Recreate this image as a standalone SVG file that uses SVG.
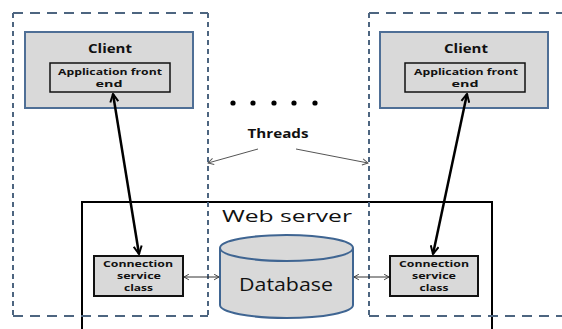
<svg xmlns="http://www.w3.org/2000/svg" width="562" height="329" viewBox="0 0 562 329">
  <defs>
    <style>
      .dash-h { stroke: #4d6580; stroke-width: 2; stroke-dasharray: 10 7; fill: none; }
      .dash-v { stroke: #4d6580; stroke-width: 2; stroke-dasharray: 5 4; fill: none; }
      .client { fill: #d9d9d9; stroke: #4f6f96; stroke-width: 2; }
      .inner { fill: #d9d9d9; stroke: #111; stroke-width: 1.5; }
      .conn { fill: #d9d9d9; stroke: #111; stroke-width: 2; }
      .bold { font-family: "Open Sans", "Liberation Sans", sans-serif; font-weight: bold; fill: #111; text-anchor: middle; }
      .small { font-size: 9px; }
      .reg { font-family: "Open Sans", "Liberation Sans", sans-serif; fill: #111; }
      .thick { stroke: #000; stroke-width: 2.5; fill: none; marker-start: url(#headS); marker-end: url(#headE); }
      .thin2 { stroke: #333; stroke-width: 1; fill: none; marker-start: url(#smallS); marker-end: url(#smallE); }
      .thread { stroke: #555; stroke-width: 1; fill: none; marker-end: url(#thinE); }
    </style>
    <marker id="headE" viewBox="0 0 10 10" refX="9" refY="5" markerWidth="4" markerHeight="4" orient="auto" markerUnits="strokeWidth">
      <path d="M1,1 L9,5 L1,9" fill="none" stroke="#000" stroke-width="2"/>
    </marker>
    <marker id="headS" viewBox="0 0 10 10" refX="1" refY="5" markerWidth="4" markerHeight="4" orient="auto" markerUnits="strokeWidth">
      <path d="M9,1 L1,5 L9,9" fill="none" stroke="#000" stroke-width="2"/>
    </marker>
    <marker id="smallE" viewBox="0 0 10 10" refX="9" refY="5" markerWidth="7" markerHeight="7" orient="auto" markerUnits="strokeWidth">
      <path d="M2,1 L9,5 L2,9" fill="none" stroke="#333" stroke-width="1.3"/>
    </marker>
    <marker id="smallS" viewBox="0 0 10 10" refX="1" refY="5" markerWidth="7" markerHeight="7" orient="auto" markerUnits="strokeWidth">
      <path d="M8,1 L1,5 L8,9" fill="none" stroke="#333" stroke-width="1.3"/>
    </marker>
    <marker id="thinE" viewBox="0 0 10 10" refX="9" refY="5" markerWidth="8" markerHeight="8" orient="auto" markerUnits="strokeWidth">
      <path d="M2,1 L9,5 L2,9" fill="none" stroke="#555" stroke-width="1.2"/>
    </marker>
  </defs>

  <rect width="562" height="329" fill="#fff"/>

  <!-- web server container -->
  <g id="web-server">
    <rect x="82" y="202" width="410" height="140" fill="none" stroke="#000" stroke-width="2"/>
    <text class="reg" x="222" y="222" font-size="17" textLength="130" lengthAdjust="spacingAndGlyphs">Web server</text>
  </g>

  <!-- thread boundaries -->
  <g id="thread-left">
    <line class="dash-h" x1="13" y1="13" x2="208" y2="13"/>
    <line class="dash-h" x1="13" y1="316" x2="208" y2="316"/>
    <line class="dash-v" x1="13" y1="13" x2="13" y2="316"/>
    <line class="dash-v" x1="208" y1="13" x2="208" y2="316"/>
  </g>
  <g id="thread-right">
    <line class="dash-h" x1="369" y1="13" x2="562" y2="13"/>
    <line class="dash-h" x1="369" y1="316" x2="562" y2="316"/>
    <line class="dash-v" x1="369" y1="13" x2="369" y2="316"/>
  </g>

  <g id="client-left">
    <rect class="client" x="25" y="32" width="168" height="76"/>
    <text class="bold" x="110" y="53" font-size="12.5" textLength="44" lengthAdjust="spacingAndGlyphs">Client</text>
    <rect class="inner" x="50" y="63" width="120" height="29"/>
    <text class="bold small" x="110" y="75" textLength="104" lengthAdjust="spacingAndGlyphs">Application front</text>
    <text class="bold small" x="109" y="87" textLength="27" lengthAdjust="spacingAndGlyphs">end</text>
  </g>

  <g id="client-right">
    <rect class="client" x="380" y="32" width="168" height="76"/>
    <text class="bold" x="466" y="53" font-size="12.5" textLength="44" lengthAdjust="spacingAndGlyphs">Client</text>
    <rect class="inner" x="405" y="63" width="120" height="29"/>
    <text class="bold small" x="466" y="75" textLength="104" lengthAdjust="spacingAndGlyphs">Application front</text>
    <text class="bold small" x="465" y="87" textLength="27" lengthAdjust="spacingAndGlyphs">end</text>
  </g>

  <g id="ellipsis">
    <circle cx="233" cy="103" r="2.6" fill="#000"/>
    <circle cx="253" cy="103" r="2.6" fill="#000"/>
    <circle cx="274" cy="103" r="2.6" fill="#000"/>
    <circle cx="294" cy="103" r="2.6" fill="#000"/>
    <circle cx="315" cy="103" r="2.6" fill="#000"/>
  </g>

  <g id="threads-label">
    <text class="bold" x="278" y="138" font-size="13" textLength="61" lengthAdjust="spacingAndGlyphs">Threads</text>
  </g>

  <g id="conn-left">
    <rect class="conn" x="94" y="256" width="89" height="40"/>
    <text class="bold small" x="138" y="267" textLength="70" lengthAdjust="spacingAndGlyphs">Connection</text>
    <text class="bold small" x="139" y="279" textLength="44" lengthAdjust="spacingAndGlyphs">service</text>
    <text class="bold small" x="138.5" y="291" textLength="29" lengthAdjust="spacingAndGlyphs">class</text>
  </g>

  <g id="conn-right">
    <rect class="conn" x="390" y="256" width="88" height="40"/>
    <text class="bold small" x="434" y="267" textLength="70" lengthAdjust="spacingAndGlyphs">Connection</text>
    <text class="bold small" x="434" y="279" textLength="44" lengthAdjust="spacingAndGlyphs">service</text>
    <text class="bold small" x="434" y="291" textLength="29" lengthAdjust="spacingAndGlyphs">class</text>
  </g>

  <g id="database">
    <path d="M220,248 L220,305 A66.5,13 0 0 0 353,305 L353,248" fill="#d9d9d9" stroke="#3f6592" stroke-width="2"/>
    <ellipse cx="286.5" cy="248" rx="66.5" ry="13" fill="#d9d9d9" stroke="#3f6592" stroke-width="2"/>
    <text class="reg" x="286" y="291" font-size="17.5" text-anchor="middle" textLength="94" lengthAdjust="spacingAndGlyphs">Database</text>
  </g>

  <!-- connectors -->
  <g id="connectors">
    <line class="thick" x1="113" y1="94" x2="139" y2="254"/>
    <line class="thick" x1="467" y1="94" x2="433" y2="254"/>
    <line class="thin2" x1="184" y1="277" x2="219" y2="277"/>
    <line class="thin2" x1="354" y1="277" x2="389" y2="277"/>
    <line class="thread" x1="258" y1="149" x2="208" y2="163"/>
    <line class="thread" x1="296" y1="149" x2="368" y2="163"/>
  </g>
</svg>
